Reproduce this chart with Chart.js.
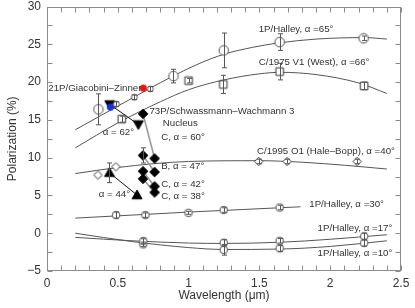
<!DOCTYPE html>
<html><head><meta charset="utf-8">
<script src="https://cdn.jsdelivr.net/npm/chart.js@4/dist/chart.umd.min.js"></script>
<style>html,body{margin:0;padding:0;background:#fff}#wrap{width:415px;height:308px}</style>
</head><body><div id="wrap"><canvas id="c"></canvas></div>
<script>
// ---- tick labels ----
const xTickValues = [0, 0.5, 1, 1.5, 2, 2.5];
const yTickValues = [-5, 0, 5, 10, 15, 20, 25, 30];

// ---- fitted curves ----
const curve65X = [0.2, 0.45, 0.7, 0.9, 1.08, 1.25, 1.45, 1.64, 1.9, 2.24, 2.4];
const curve65Y = [13.7, 16.3, 18.9, 20.9, 22.5, 23.7, 24.6, 25.2, 25.7, 25.9, 25.7];
const curveWestX = [0.2, 0.5, 0.8, 1.0, 1.25, 1.5, 1.65, 1.9, 2.2, 2.4];
const curveWestY = [11.3, 14.6, 17.4, 19.0, 20.3, 21.1, 21.3, 21.0, 19.9, 18.5];
const curveHBX = [0.2, 0.5, 0.75, 1.0, 1.5, 1.8, 2.1, 2.4];
const curveHBY = [7.9, 8.7, 9.2, 9.5, 9.6, 9.4, 9.0, 8.5];
const curve30X = [0.2, 1.0, 1.79];
const curve30Y = [2.0, 2.8, 3.5];
const curve17X = [0.2, 0.6, 1.0, 1.25, 1.64, 2.0, 2.4];
const curve17Y = [-0.55, -1.0, -1.3, -1.35, -1.2, -0.8, -0.2];
const curve10X = [0.2, 0.6, 1.0, 1.25, 1.64, 2.0, 2.4];
const curve10Y = [0.0, -1.1, -1.9, -2.15, -2.1, -1.75, -1.0];

// ---- observations ----
const halley65X = [0.363, 0.893, 1.248, 1.643, 2.236];
const halley65Y = [16.4, 20.8, 24.2, 25.3, 25.8];
const halley65Err = [2.05, 0.9, 2.3, 1.1, 0.3];
const halley65bX = [0.49, 0.617, 0.73];
const halley65bY = [17.1, 18.0, 19.1];
const halley65bErr = [0.3, 0.3, 0.3];
const westX = [0.528, 1.0, 1.245, 1.643, 2.24];
const westY = [15.1, 20.2, 19.7, 21.4, 19.5];
const westErr = [0.4, 0.3, 1.2, 1.1, 0.5];
const gzRedX = [0.68], gzRedY = [19.2];
const gzBlueX = [0.448], gzBlueY = [16.7];
const sw62X = [0.443, 0.645], sw62Y = [17.05, 14.4];
const sw44X = [0.441, 0.636], sw44Y = [8.0, 5.05], sw44Err = [1.3, 0];
const hbX = [0.36, 0.486, 1.495, 1.695, 2.19];
const hbY = [7.7, 8.8, 9.5, 9.5, 9.5];
const hbErr = [0, 0, 0.3, 0.3, 0.3];
const fragX = [0.678, 0.76];
const nucC60Y = [15.8, 9.9];
const fragB47Y = [10.3, 8.1];
const fragB47Err = [1.0, 0];
const fragC42Y = [8.2, 6.2];
const fragC38Y = [7.2, 5.4];
const halley30X = [0.488, 0.695, 0.999, 1.248, 1.643];
const halley30Y = [2.4, 2.4, 2.7, 3.07, 3.4];
const halley30Err = [0.4, 0.3, 0.2, 0.3, 0.3];
const halley17X = [0.68, 1.248, 1.643, 2.24];
const halley17Y = [-1.03, -1.26, -1.0, -0.4];
const halley17Err = [0.3, 0.4, 0.3, 0.4];
const halley10X = [0.68, 1.248, 1.643, 2.24];
const halley10Y = [-1.47, -2.2, -2.0, -1.3];
const halley10Err = [0.3, 0.7, 0.4, 0.4];

// ---- text annotations ----
const labelTexts = ['1P/Halley, \u03b1 =65\u00b0', 'C/1975 V1 (West), \u03b1 =66\u00b0', '21P/Giacobini\u2013Zinner',
  '73P/Schwassmann\u2013Wachmann 3', 'Nucleus', 'C, \u03b1 = 60\u00b0', '\u03b1 = 62\u00b0',
  'C/1995 O1 (Hale\u2013Bopp), \u03b1 =40\u00b0', 'B, \u03b1 = 47\u00b0', 'C, \u03b1 = 42\u00b0', 'C, \u03b1 = 38\u00b0',
  '\u03b1 = 44\u00b0', '1P/Halley, \u03b1 =30\u00b0', '1P/Halley, \u03b1 =17\u00b0', '1P/Halley, \u03b1 =10\u00b0'];
const labelX = [1.495, 1.495, 0.667, 0.723, 0.941, 0.806, 0.394, 1.483, 0.806, 0.806, 0.806, 0.366, 1.852, 1.911, 1.911];
const labelY = [27.0, 22.6, 19.2, 16.1, 14.6, 12.7, 13.3, 10.9, 8.8, 6.47, 4.83, 5.15, 3.82, 0.65, -2.66];
const labelAlign = ['left','left','right','left','center','left','left','left','left','left','left','left','left','left','left'];

const pts = (xs, ys) => xs.map((v, i) => ({x: v, y: ys[i]}));

function mk(kind, r, fill, stroke) {
  const s = Math.ceil(2 * r + 4);
  const c = document.createElement('canvas'); c.width = s; c.height = s;
  const g = c.getContext('2d'); const m = s / 2;
  g.lineWidth = 1; g.strokeStyle = stroke; g.fillStyle = fill;
  g.beginPath();
  if (kind === 'circle') g.arc(m, m, r, 0, 2 * Math.PI);
  else if (kind === 'square') g.rect(m - r, m - r, 2 * r, 2 * r);
  else if (kind === 'diamond') { g.moveTo(m, m - r); g.lineTo(m + r, m); g.lineTo(m, m + r); g.lineTo(m - r, m); g.closePath(); }
  else if (kind === 'triUp') { g.moveTo(m, m - r); g.lineTo(m + r, m + r * 0.75); g.lineTo(m - r, m + r * 0.75); g.closePath(); }
  else if (kind === 'triDown') { g.moveTo(m, m + r); g.lineTo(m + r, m - r * 0.75); g.lineTo(m - r, m - r * 0.75); g.closePath(); }
  g.fill(); g.stroke();
  return c;
}
const GR = '#555';
const mCircle = mk('circle', 4.8, '#fff', GR);
const mCircleS = mk('circle', 3, '#fff', GR);
const mCircleM = mk('circle', 3.8, '#fff', GR);
const mSquare = mk('square', 3.8, '#fff', '#333');
const mDiaOpen = mk('diamond', 4.2, '#fff', '#333');
const mDiaFill = mk('diamond', 4.8, '#000', '#000');
const mTriUp = mk('triUp', 5, '#000', '#000');
const mTriDown = mk('triDown', 5, '#000', '#000');
const mRed = mk('circle', 3.2, '#ee1111', '#ee1111');
const mBlue = mk('circle', 3.2, '#1133dd', '#1133dd');

function markers(xs, ys, style, errs, extra) {
  return Object.assign({data: pts(xs, ys), showLine: false, pointStyle: style, pointRadius: 5,
    pointHoverRadius: 5, errs: errs || null, order: 0}, extra || {});
}
function curve(xs, ys) {
  return {data: pts(xs, ys), showLine: true, borderColor: '#555', borderWidth: 1, pointRadius: 0,
    cubicInterpolationMode: 'monotone', fill: false, order: 10};
}
function pair(ys, style, color, width, errs) {
  return {data: pts(fragX, ys), showLine: true, borderColor: color, borderWidth: width, pointStyle: style,
    pointRadius: 5, errs: errs || null, order: 5};
}

const datasets = [
  curve(curve65X, curve65Y), curve(curveWestX, curveWestY), curve(curveHBX, curveHBY),
  curve(curve30X, curve30Y), curve(curve17X, curve17Y), curve(curve10X, curve10Y),
  {data: pts(sw62X, sw62Y), showLine: true, borderColor: '#111', borderWidth: 1, pointStyle: mTriDown, pointRadius: 5, order: 4},
  {data: pts(sw44X, sw44Y), showLine: true, borderColor: '#111', borderWidth: 1, pointStyle: mTriUp, pointRadius: 5, errs: sw44Err, order: 4},
  pair(nucC60Y, mDiaFill, '#999', 1.6),
  pair(fragB47Y, mDiaFill, '#999', 1.6, fragB47Err),
  pair(fragC42Y, mDiaFill, '#999', 1.6),
  pair(fragC38Y, mDiaFill, '#999', 1.6),
  markers(halley65X, halley65Y, mCircle, halley65Err),
  markers(halley65bX, halley65bY, mCircleS, halley65bErr),
  markers(westX, westY, mSquare, westErr),
  markers(hbX, hbY, mDiaOpen, hbErr),
  markers(halley30X, halley30Y, mCircleM, halley30Err),
  markers(halley17X, halley17Y, mCircleM, halley17Err),
  markers(halley10X, halley10Y, mCircleM, halley10Err),
  markers(gzBlueX, gzBlueY, mBlue),
  markers(gzRedX, gzRedY, mRed),
];

const FONT = "'Liberation Sans', Arial, sans-serif";
const deco = {
  id: 'deco',
  afterDatasetsDraw(chart) {
    const {ctx, chartArea: a, scales: {x, y}} = chart;
    ctx.save();
    // error bars
    ctx.strokeStyle = '#555'; ctx.lineWidth = 1;
    chart.data.datasets.forEach(ds => {
      if (!ds.errs) return;
      ds.data.forEach((p, j) => {
        const e = ds.errs[j]; if (!e) return;
        const px = Math.round(x.getPixelForValue(p.x)) + 0.5;
        const y1 = y.getPixelForValue(p.y + e), y2 = y.getPixelForValue(p.y - e);
        ctx.beginPath();
        ctx.moveTo(px, y1); ctx.lineTo(px, y2);
        ctx.moveTo(px - 2.5, y1); ctx.lineTo(px + 2.5, y1);
        ctx.moveTo(px - 2.5, y2); ctx.lineTo(px + 2.5, y2);
        ctx.stroke();
      });
    });
    // frame
    ctx.strokeStyle = '#8c8c8c'; ctx.lineWidth = 1;
    const L = Math.round(a.left) + 0.5, R = Math.round(a.right) - 0.5, T = Math.round(a.top) + 0.5, B = Math.round(a.bottom) - 0.5;
    ctx.strokeRect(L, T, R - L, B - T);
    ctx.beginPath();
    for (let v = 0; v <= 2.5001; v += 0.1) {
      const px = Math.round(x.getPixelForValue(v)) + 0.5;
      ctx.moveTo(px, B); ctx.lineTo(px, B - 5);
      ctx.moveTo(px, T); ctx.lineTo(px, T + 5);
    }
    for (let v = -5; v <= 30.001; v += 2.5) {
      const py = Math.round(y.getPixelForValue(v)) + 0.5;
      ctx.moveTo(L, py); ctx.lineTo(L + 5, py);
      ctx.moveTo(R, py); ctx.lineTo(R - 5, py);
    }
    ctx.stroke();
    // labels
    ctx.fillStyle = '#333'; ctx.font = '9.7px ' + FONT; ctx.textBaseline = 'middle';
    labelTexts.forEach((t, i) => {
      ctx.textAlign = labelAlign[i];
      ctx.fillText(t, x.getPixelForValue(labelX[i]), y.getPixelForValue(labelY[i]));
    });
    ctx.restore();
  }
};

new Chart(document.getElementById('c'), {
  type: 'line',
  data: {datasets},
  options: {
    responsive: true, maintainAspectRatio: false, animation: false,
    layout: {padding: {top: 6, right: 14, left: 0, bottom: 0}},
    plugins: {legend: {display: false}, tooltip: {enabled: false}},
    scales: {
      x: {
        type: 'linear', min: 0, max: 2.5,
        afterBuildTicks: s => { s.ticks = xTickValues.map(v => ({value: v})); },
        afterFit: s => { s.height = 37; s.paddingLeft = 0; s.paddingRight = 0; },
        grid: {display: false, drawTicks: false}, border: {display: false},
        ticks: {padding: 5, color: '#333', font: {size: 12, family: FONT}, maxRotation: 0,
          callback: v => String(v)},
        title: {display: true, text: 'Wavelength (\u03bcm)', color: '#333', font: {size: 12, family: FONT}, padding: {top: 0, bottom: 5}}
      },
      y: {
        type: 'linear', min: -5, max: 30,
        afterBuildTicks: s => { s.ticks = yTickValues.map(v => ({value: v})); },
        afterFit: s => { s.width = 47; s.paddingTop = 0; s.paddingBottom = 0; },
        grid: {display: false, drawTicks: false}, border: {display: false},
        ticks: {padding: 6, color: '#333', font: {size: 12, family: FONT},
          callback: v => v < 0 ? '\u2212' + Math.abs(v) : String(v)},
        title: {display: true, text: 'Polarization (%)', color: '#333', font: {size: 12, family: FONT}, padding: {top: 5, bottom: 0}}
      }
    }
  },
  plugins: [deco]
});
</script></body></html>
